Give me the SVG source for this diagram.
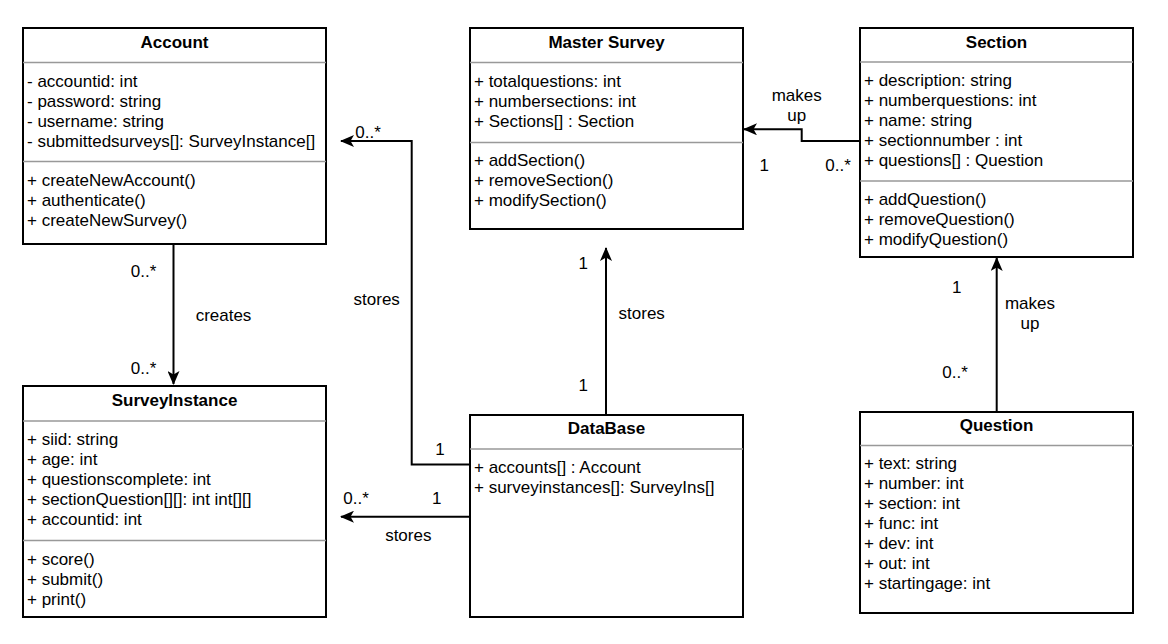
<svg xmlns="http://www.w3.org/2000/svg" width="1168" height="644" viewBox="0 0 1168 644">
<defs>
<style>
.box{fill:#fff;stroke:#000;stroke-width:2}
.div{stroke:#999;stroke-width:1.3}
.t{font-family:"Liberation Sans",Arial,Helvetica,sans-serif;font-size:17px;fill:#000}
.b{font-weight:bold;text-anchor:middle}
.m{text-anchor:middle}
.edge{fill:none;stroke:#000;stroke-width:2}
</style>
<marker id="arr" viewBox="0 0 14 12" refX="13" refY="6" markerWidth="14" markerHeight="12" markerUnits="userSpaceOnUse" orient="auto">
<path d="M0,0 L14,6 L0,12 L3.5,6 Z" fill="#000"/>
</marker>
</defs>
<rect width="1168" height="644" fill="#fff"/>

<g id="connectors">
<path class="edge" d="M173.5,244 V384" marker-end="url(#arr)"/>
<path class="edge" d="M470,464.5 H411.7 V141 H341" marker-end="url(#arr)"/>
<path class="edge" d="M470,516.7 H341" marker-end="url(#arr)"/>
<path class="edge" d="M606,415 V248" marker-end="url(#arr)"/>
<path class="edge" d="M860,141 H801.7 V129.3 H744" marker-end="url(#arr)"/>
<path class="edge" d="M996.7,412 V258" marker-end="url(#arr)"/>
<g class="t">
<text x="143.5" y="277" class="m">0..*</text>
<text x="223.5" y="321" class="m">creates</text>
<text x="143.5" y="374" class="m">0..*</text>
<text x="376.7" y="305" class="m">stores</text>
<text x="368" y="137.5" class="m">0..*</text>
<text x="440" y="455" class="m">1</text>
<text x="356" y="504" class="m">0..*</text>
<text x="436.7" y="504" class="m">1</text>
<text x="408.3" y="541" class="m">stores</text>
<text x="583.3" y="269" class="m">1</text>
<text x="641.7" y="319" class="m">stores</text>
<text x="583.3" y="391" class="m">1</text>
<text x="796.7" y="101" class="m">makes</text>
<text x="796.7" y="121" class="m">up</text>
<text x="764.3" y="171" class="m">1</text>
<text x="838" y="171" class="m">0..*</text>
<text x="956.7" y="293" class="m">1</text>
<text x="1030" y="309" class="m">makes</text>
<text x="1030" y="329" class="m">up</text>
<text x="955" y="378" class="m">0..*</text>
</g>
</g>

<g id="account">
<rect class="box" x="23" y="28" width="303" height="216"/>
<line class="div" x1="23" y1="62.5" x2="326" y2="62.5"/>
<line class="div" x1="23" y1="161.5" x2="326" y2="161.5"/>
<g class="t">
<text x="174.5" y="48" class="b">Account</text>
<text x="27" y="86.5">- accountid: int</text>
<text x="27" y="106.5">- password: string</text>
<text x="27" y="126.5">- username: string</text>
<text x="27" y="146.5">- submittedsurveys[]: SurveyInstance[]</text>
<text x="27" y="185.5">+ createNewAccount()</text>
<text x="27" y="205.5">+ authenticate()</text>
<text x="27" y="225.5">+ createNewSurvey()</text>
</g>
</g>

<g id="master-survey">
<rect class="box" x="470" y="28" width="273" height="201"/>
<line class="div" x1="470" y1="62.5" x2="743" y2="62.5"/>
<line class="div" x1="470" y1="142.5" x2="743" y2="142.5"/>
<g class="t">
<text x="606.5" y="48" class="b">Master Survey</text>
<text x="474" y="86.5">+ totalquestions: int</text>
<text x="474" y="106.5">+ numbersections: int</text>
<text x="474" y="126.5">+ Sections[] : Section</text>
<text x="474" y="166">+ addSection()</text>
<text x="474" y="186">+ removeSection()</text>
<text x="474" y="206">+ modifySection()</text>
</g>
</g>

<g id="section">
<rect class="box" x="860" y="28" width="273" height="229"/>
<line class="div" x1="860" y1="62" x2="1133" y2="62"/>
<line class="div" x1="860" y1="181" x2="1133" y2="181"/>
<g class="t">
<text x="996.5" y="48" class="b">Section</text>
<text x="864" y="85.5">+ description: string</text>
<text x="864" y="105.5">+ numberquestions: int</text>
<text x="864" y="125.5">+ name: string</text>
<text x="864" y="145.5">+ sectionnumber : int</text>
<text x="864" y="165.5">+ questions[] : Question</text>
<text x="864" y="205">+ addQuestion()</text>
<text x="864" y="225">+ removeQuestion()</text>
<text x="864" y="245">+ modifyQuestion()</text>
</g>
</g>

<g id="survey-instance">
<rect class="box" x="23" y="386" width="303" height="231"/>
<line class="div" x1="23" y1="421" x2="326" y2="421"/>
<line class="div" x1="23" y1="540.5" x2="326" y2="540.5"/>
<g class="t">
<text x="174.5" y="405.5" class="b">SurveyInstance</text>
<text x="27" y="445">+ siid: string</text>
<text x="27" y="465">+ age: int</text>
<text x="27" y="485">+ questionscomplete: int</text>
<text x="27" y="505">+ sectionQuestion[][]: int int[][]</text>
<text x="27" y="525">+ accountid: int</text>
<text x="27" y="565">+ score()</text>
<text x="27" y="585">+ submit()</text>
<text x="27" y="605">+ print()</text>
</g>
</g>

<g id="database">
<rect class="box" x="470" y="415" width="273" height="202"/>
<line class="div" x1="470" y1="449" x2="743" y2="449"/>
<g class="t">
<text x="606.5" y="434" class="b">DataBase</text>
<text x="474" y="473">+ accounts[] : Account</text>
<text x="474" y="493">+ surveyinstances[]: SurveyIns[]</text>
</g>
</g>

<g id="question">
<rect class="box" x="860" y="412" width="273" height="201"/>
<line class="div" x1="860" y1="445.5" x2="1133" y2="445.5"/>
<g class="t">
<text x="996.5" y="431" class="b">Question</text>
<text x="864" y="469">+ text: string</text>
<text x="864" y="489">+ number: int</text>
<text x="864" y="509">+ section: int</text>
<text x="864" y="529">+ func: int</text>
<text x="864" y="549">+ dev: int</text>
<text x="864" y="569">+ out: int</text>
<text x="864" y="589">+ startingage: int</text>
</g>
</g>
</svg>
